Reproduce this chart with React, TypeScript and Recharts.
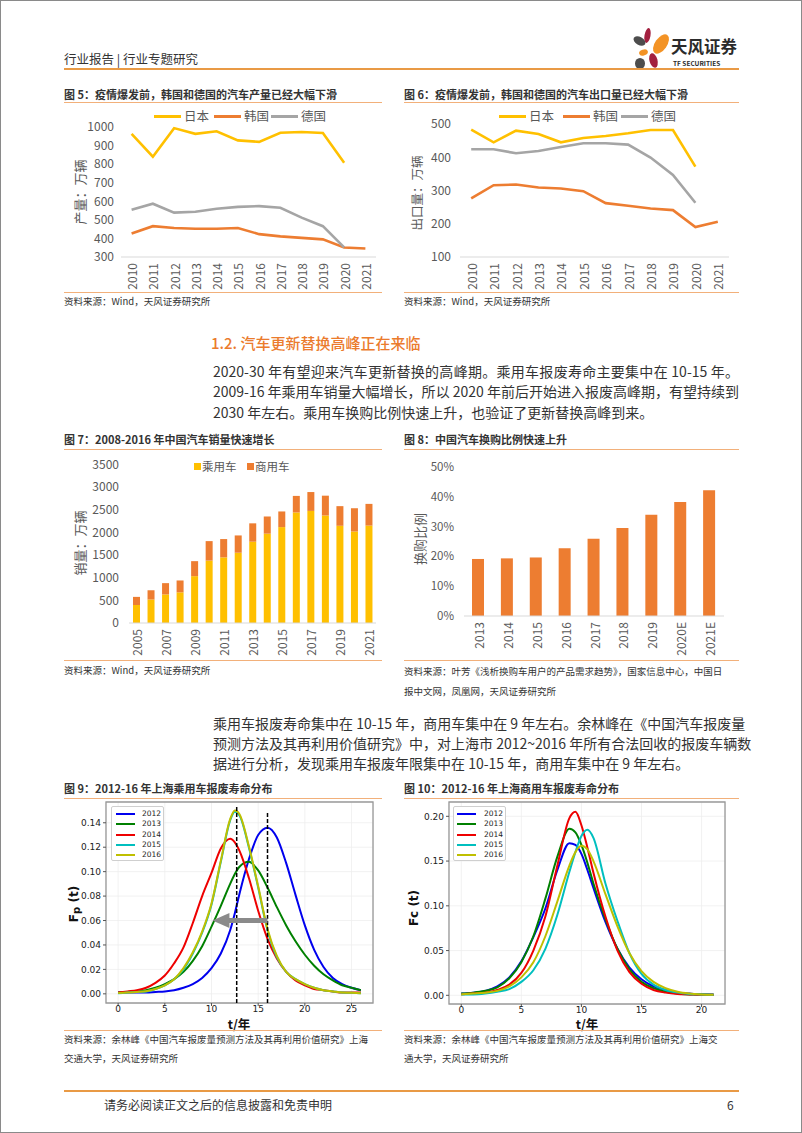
import React from "react";
import {
  LineChart,
  Line,
  BarChart,
  Bar,
  ComposedChart,
  Scatter,
  XAxis,
  YAxis,
  CartesianGrid,
  ReferenceLine,
  ReferenceArea,
} from "recharts";

const CJK = '"Noto Sans CJK SC", "Noto Sans", sans-serif';
const MPL = '"DejaVu Sans", sans-serif';
const TXT = "#333333";
const AXIS_GRAY = "#595959";
const RULE = "#F2B07A";
const YELLOW = "#FFC000";
const ORANGE = "#ED7D31";
const GRAY = "#A5A5A5";

// 图5 / 图6：日韩德汽车产量、出口量（万辆）
const YEARS_10_21 = ["2010", "2011", "2012", "2013", "2014", "2015", "2016", "2017", "2018", "2019", "2020", "2021"];
const JP_OUTPUT = [963, 840, 994, 963, 977, 928, 920, 969, 973, 968, 807, null];
const KR_OUTPUT = [427, 466, 456, 452, 452, 456, 423, 411, 403, 395, 351, 346];
const DE_OUTPUT = [555, 587, 539, 544, 560, 570, 574, 565, 512, 466, 352, null];
const JP_EXPORT = [483, 445, 480, 470, 445, 458, 464, 472, 482, 482, 372, null];
const KR_EXPORT = [276, 316, 318, 309, 306, 298, 262, 254, 246, 241, 190, 206];
const DE_EXPORT = [424, 424, 412, 419, 431, 442, 442, 438, 399, 347, 263, null];

// 图7：中国汽车销量（万辆）
const YEARS_05_21 = ["2005", "2006", "2007", "2008", "2009", "2010", "2011", "2012", "2013", "2014", "2015", "2016", "2017", "2018", "2019", "2020", "2021"];
const PASSENGER = [397, 518, 630, 676, 1033, 1376, 1447, 1550, 1793, 1970, 2115, 2438, 2472, 2371, 2144, 2018, 2148];
const COMMERCIAL = [179, 204, 249, 262, 331, 430, 404, 381, 405, 379, 345, 365, 416, 437, 433, 513, 479];

// 图8：换购比例
const RATIO_YEARS = ["2013", "2014", "2015", "2016", "2017", "2018", "2019", "2020E", "2021E"];
const REPLACE_RATIO = [0.191, 0.193, 0.196, 0.227, 0.259, 0.295, 0.339, 0.382, 0.421];

// 图9：乘用车报废寿命分布
const T9 = [0, 1, 2, 3, 4, 5, 6, 7, 8, 9, 10, 11, 12, 12.5, 13, 14, 15, 16, 17, 18, 19, 20, 21, 22, 23, 24, 25, 26];
const FP_2012 = [0.001, 0.001, 0.001, 0.001, 0.0015, 0.002, 0.003, 0.005, 0.008, 0.013, 0.021, 0.033, 0.052, 0.066, 0.082, 0.11, 0.13, 0.136, 0.128, 0.107, 0.081, 0.056, 0.036, 0.022, 0.013, 0.008, 0.005, 0.003];
const FP_2013 = [0.001, 0.0015, 0.002, 0.003, 0.005, 0.008, 0.012, 0.018, 0.027, 0.039, 0.055, 0.072, 0.09, 0.098, 0.104, 0.108, 0.101, 0.087, 0.071, 0.056, 0.043, 0.032, 0.023, 0.016, 0.011, 0.007, 0.005, 0.003];
const FP_2014 = [0.001, 0.002, 0.003, 0.005, 0.009, 0.015, 0.025, 0.038, 0.058, 0.08, 0.099, 0.119, 0.127, 0.124, 0.117, 0.095, 0.068, 0.045, 0.029, 0.018, 0.011, 0.007, 0.004, 0.003, 0.002, 0.001, 0.001, 0.001];
const FP_2015 = [0.0005, 0.001, 0.0015, 0.002, 0.004, 0.007, 0.012, 0.02, 0.033, 0.05, 0.073, 0.108, 0.142, 0.149, 0.146, 0.12, 0.087, 0.052, 0.03, 0.018, 0.012, 0.008, 0.005, 0.003, 0.002, 0.001, 0.0008, 0.0005];
const FP_2016 = [0.0006, 0.001, 0.0016, 0.0022, 0.004, 0.007, 0.012, 0.021, 0.034, 0.051, 0.074, 0.109, 0.143, 0.15, 0.147, 0.121, 0.088, 0.053, 0.031, 0.018, 0.012, 0.008, 0.005, 0.003, 0.002, 0.001, 0.0008, 0.0005];
const DASH_T = [12.7, 16];
const DASH_TOP = [0.1546, 0.148];
const ARROW = { from: 16, to: 11.8, tip: 10.1, level: 0.06 };

// 图10：商用车报废寿命分布
const T10 = [0, 1, 2, 3, 4, 5, 6, 7, 8, 9, 9.5, 10, 10.5, 11, 12, 13, 14, 15, 16, 17, 18, 19, 20, 21];
const FC_2012 = [0.002, 0.003, 0.005, 0.01, 0.02, 0.038, 0.065, 0.097, 0.14, 0.17, 0.168, 0.158, 0.14, 0.12, 0.082, 0.052, 0.031, 0.018, 0.01, 0.006, 0.003, 0.002, 0.001, 0.001];
const FC_2013 = [0.002, 0.003, 0.005, 0.009, 0.019, 0.037, 0.066, 0.108, 0.155, 0.186, 0.182, 0.168, 0.148, 0.125, 0.085, 0.052, 0.029, 0.015, 0.008, 0.004, 0.002, 0.001, 0.001, 0.0005];
const FC_2014 = [0.001, 0.002, 0.003, 0.006, 0.012, 0.025, 0.05, 0.088, 0.145, 0.198, 0.205, 0.19, 0.165, 0.137, 0.088, 0.05, 0.026, 0.013, 0.006, 0.003, 0.0015, 0.001, 0.0005, 0.0005];
const FC_2015 = [0.001, 0.001, 0.002, 0.004, 0.007, 0.015, 0.028, 0.052, 0.09, 0.138, 0.16, 0.178, 0.185, 0.176, 0.125, 0.083, 0.047, 0.024, 0.012, 0.006, 0.003, 0.0015, 0.001, 0.0005];
const FC_2016 = [0.001, 0.002, 0.003, 0.005, 0.01, 0.02, 0.037, 0.066, 0.105, 0.145, 0.16, 0.167, 0.163, 0.15, 0.113, 0.077, 0.047, 0.027, 0.015, 0.008, 0.004, 0.002, 0.001, 0.0005];

const COHORTS = ["2012", "2013", "2014", "2015", "2016"];
const MPL_COLORS = ["#0000EE", "#008000", "#EE0000", "#00BFBF", "#BFBF00"];

const PARA_1 = [
  "2020-30 年有望迎来汽车更新替换的高峰期。乘用车报废寿命主要集中在 10-15 年。",
  "2009-16 年乘用车销量大幅增长，所以 2020 年前后开始进入报废高峰期，有望持续到",
  "2030 年左右。乘用车换购比例快速上升，也验证了更新替换高峰到来。",
];
const PARA_2 = [
  "乘用车报废寿命集中在 10-15 年，商用车集中在 9 年左右。余林峰在《中国汽车报废量",
  "预测方法及其再利用价值研究》中，对上海市 2012~2016 年所有合法回收的报废车辆数",
  "据进行分析，发现乘用车报废年限集中在 10-15 年，商用车集中在 9 年左右。",
];

const outputRows = YEARS_10_21.map((year, i) => ({ year, jp: JP_OUTPUT[i], kr: KR_OUTPUT[i], de: DE_OUTPUT[i] }));
const exportRows = YEARS_10_21.map((year, i) => ({ year, jp: JP_EXPORT[i], kr: KR_EXPORT[i], de: DE_EXPORT[i] }));
const salesRows = YEARS_05_21.map((year, i) => ({ year, p: PASSENGER[i], c: COMMERCIAL[i] }));
const ratioRows = RATIO_YEARS.map((year, i) => ({ year, r: REPLACE_RATIO[i] }));
const fpRows = T9.map((t, i) => ({ t, a: FP_2012[i], b: FP_2013[i], c: FP_2014[i], d: FP_2015[i], e: FP_2016[i] }));
const fcRows = T10.map((t, i) => ({ t, a: FC_2012[i], b: FC_2013[i], c: FC_2014[i], d: FC_2015[i], e: FC_2016[i] }));
const arrowHead = [{ t: ARROW.tip, v: ARROW.level }];
const SERIES_KEYS = ["a", "b", "c", "d", "e"];

function Txt({ x, y, size, children, color = TXT, weight = 400, w, justify, family = CJK }: any) {
  return (
    <div
      style={{
        position: "absolute",
        left: x,
        top: y - size * 0.65,
        height: size * 1.3,
        lineHeight: `${size * 1.3}px`,
        fontSize: size,
        fontWeight: weight,
        color,
        fontFamily: family,
        whiteSpace: "nowrap",
        width: w,
        textAlign: justify ? "justify" : "left",
        textAlignLast: justify ? "justify" : "auto",
      } as any}
    >
      {children}
    </div>
  );
}

function VLabel({ cx, cy, size, children, color = AXIS_GRAY, weight = 400, family = CJK }: any) {
  return (
    <div
      style={{
        position: "absolute",
        left: cx,
        top: cy,
        transform: "translate(-50%, -50%) rotate(-90deg)",
        fontSize: size,
        color,
        fontWeight: weight,
        fontFamily: family,
        whiteSpace: "nowrap",
        lineHeight: 1,
      }}
    >
      {children}
    </div>
  );
}

function Rule({ x1, x2, y, color = RULE, h = 1 }: any) {
  return <div style={{ position: "absolute", left: x1, top: y, width: x2 - x1, height: h, background: color }} />;
}

function RotTick(props: any) {
  const { x, y, payload, gap = 6, size = 12 } = props;
  return (
    <text
      transform={`translate(${x},${y + gap}) rotate(-90)`}
      textAnchor="end"
      dominantBaseline="central"
      fontSize={size}
      fill={AXIS_GRAY}
      fontFamily={CJK}
    >
      {payload.value}
    </text>
  );
}

function LineKey({ items, y }: any) {
  return (
    <>
      {items.map((it: any) => (
        <React.Fragment key={it.label}>
          <div style={{ position: "absolute", left: it.x, top: y - 1.5, width: 27, height: 3, background: it.color }} />
          <Txt x={it.x + 30} y={y} size={12.5} color={AXIS_GRAY}>
            {it.label}
          </Txt>
        </React.Fragment>
      ))}
    </>
  );
}

function BoxKey({ x, y, sw, tx }: any) {
  return (
    <div
      style={{
        position: "absolute",
        left: x,
        top: y,
        width: 53,
        height: 55,
        border: "1px solid #cfcfcf",
        borderRadius: 2,
        background: "#fff",
        boxSizing: "border-box",
      }}
    >
      {COHORTS.map((c, i) => (
        <React.Fragment key={c}>
          <div style={{ position: "absolute", left: sw, top: 6 + i * 10.3, width: 19, height: 2, background: MPL_COLORS[i] }} />
          <div
            style={{
              position: "absolute",
              left: tx,
              top: 2 + i * 10.3,
              fontSize: 7.5,
              lineHeight: "10px",
              fontFamily: MPL,
              color: "#222",
            }}
          >
            {c}
          </div>
        </React.Fragment>
      ))}
    </div>
  );
}

function Logo() {
  return (
    <svg style={{ position: "absolute", left: 628, top: 24 }} width={44} height={48}>
      <ellipse cx={18.5} cy={10.5} rx={3} ry={7.5} transform="rotate(10 18.5 10.5)" fill="#A3203F" />
      <ellipse cx={32} cy={19} rx={6} ry={11} transform="rotate(35 32 19)" fill="#F39325" />
      <ellipse cx={10.5} cy={16} rx={6.5} ry={4} transform="rotate(30 10.5 16)" fill="#4D4D4D" />
      <ellipse cx={14.5} cy={27.5} rx={4.5} ry={3} transform="rotate(-20 14.5 27.5)" fill="#F39325" />
      <ellipse cx={11} cy={38.5} rx={5} ry={5.5} fill="#4D4D4D" />
      <ellipse cx={24.5} cy={35.5} rx={4} ry={7.5} transform="rotate(-15 24.5 35.5)" fill="#A3203F" />
    </svg>
  );
}

const tickStyle = { fontSize: 12, fill: AXIS_GRAY, fontFamily: CJK };
const mplTick = { fontSize: 9, fill: "#222", fontFamily: MPL };

export default function App() {
  return (
    <div
      style={{
        position: "absolute",
        left: 0,
        top: 0,
        width: 802,
        height: 1133,
        background: "#fff",
        border: "1px solid #8a8a8a",
        boxSizing: "border-box",
        overflow: "hidden",
        fontFamily: CJK,
      }}
    >
      {/* header */}
      <Txt x={63} y={58} size={12.5}>行业报告 | 行业专题研究</Txt>
      <Logo />
      <Txt x={670} y={46} size={16.5} weight={700} color="#2b2b2b">天风证券</Txt>
      <Txt x={672} y={62} size={6.5} weight={700} color="#2b2b2b">TF SECURITIES</Txt>
      <Rule x1={63} x2={738} y={67} h={2} color="#E99A45" />

      {/* 图5 */}
      <Txt x={63} y={93} size={11} weight={700}>图 5：疫情爆发前，韩国和德国的汽车产量已经大幅下滑</Txt>
      <Rule x1={63} x2={381} y={101} />
      <LineKey
        y={115}
        items={[
          { x: 153, label: "日本", color: YELLOW },
          { x: 213, label: "韩国", color: ORANGE },
          { x: 270, label: "德国", color: GRAY },
        ]}
      />
      <VLabel cx={78} cy={191} size={13}>产量：万辆</VLabel>
      <div style={{ position: "absolute", left: 63, top: 104 }}>
        <LineChart width={330} height={190} data={outputRows} margin={{ top: 22, right: 18, bottom: 0, left: 0 }}>
          <XAxis dataKey="year" height={38} padding={{ left: 10.6, right: 10.6 }} tickSize={0} tickMargin={0} interval={0} stroke="#D9D9D9" tick={<RotTick gap={6} size={12} />} />
          <YAxis width={57} domain={[300, 1000]} ticks={[300, 400, 500, 600, 700, 800, 900, 1000]} interval={0} axisLine={false} tickSize={0} tickMargin={7} tick={tickStyle} />
          <Line dataKey="jp" stroke={YELLOW} strokeWidth={2.6} dot={false} isAnimationActive={false} />
          <Line dataKey="kr" stroke={ORANGE} strokeWidth={2.6} dot={false} isAnimationActive={false} />
          <Line dataKey="de" stroke={GRAY} strokeWidth={2.6} dot={false} isAnimationActive={false} />
        </LineChart>
      </div>
      <Rule x1={63} x2={381} y={291} />
      <Txt x={63} y={300} size={9.5}>资料来源：Wind，天风证券研究所</Txt>

      {/* 图6 */}
      <Txt x={403} y={93} size={11} weight={700}>图 6：疫情爆发前，韩国和德国的汽车出口量已经大幅下滑</Txt>
      <Rule x1={403} x2={738} y={101} />
      <LineKey
        y={115}
        items={[
          { x: 498, label: "日本", color: YELLOW },
          { x: 562, label: "韩国", color: ORANGE },
          { x: 620, label: "德国", color: GRAY },
        ]}
      />
      <VLabel cx={416} cy={192} size={12.5}>出口量：万辆</VLabel>
      <div style={{ position: "absolute", left: 403, top: 104 }}>
        <LineChart width={330} height={190} data={exportRows} margin={{ top: 19, right: 5, bottom: 0, left: 0 }}>
          <XAxis dataKey="year" height={38} padding={{ left: 11.2, right: 11.2 }} tickSize={0} tickMargin={0} interval={0} stroke="#D9D9D9" tick={<RotTick gap={6} size={12} />} />
          <YAxis width={56} domain={[100, 500]} ticks={[100, 200, 300, 400, 500]} interval={0} axisLine={false} tickSize={0} tickMargin={9} tick={tickStyle} />
          <Line dataKey="jp" stroke={YELLOW} strokeWidth={2.6} dot={false} isAnimationActive={false} />
          <Line dataKey="kr" stroke={ORANGE} strokeWidth={2.6} dot={false} isAnimationActive={false} />
          <Line dataKey="de" stroke={GRAY} strokeWidth={2.6} dot={false} isAnimationActive={false} />
        </LineChart>
      </div>
      <Rule x1={403} x2={738} y={291} />
      <Txt x={403} y={300} size={9.5}>资料来源：Wind，天风证券研究所</Txt>

      {/* 1.2 */}
      <Txt x={210} y={342} size={15} weight={500} color="#EB7B2D">1.2. 汽车更新替换高峰正在来临</Txt>
      {PARA_1.map((line, i) => (
        <Txt key={i} x={212} y={370 + i * 20.5} size={14} w={i < 2 ? 526 : undefined} justify={i < 2}>
          {line}
        </Txt>
      ))}

      {/* 图7 */}
      <Txt x={63} y={438} size={11} weight={700}>图 7：2008-2016 年中国汽车销量快速增长</Txt>
      <Rule x1={63} x2={381} y={448} />
      <div style={{ position: "absolute", left: 63, top: 450 }}>
        <BarChart width={330} height={205} data={salesRows} margin={{ top: 13.3, right: 18, bottom: 0, left: 0 }}>
          <XAxis dataKey="year" height={33} tickSize={0} tickMargin={0} interval={1} stroke="#D9D9D9" tick={<RotTick gap={6} size={12} />} />
          <YAxis width={65} domain={[0, 3500]} ticks={[0, 500, 1000, 1500, 2000, 2500, 3000, 3500]} interval={0} axisLine={false} tickSize={0} tickMargin={10} tick={tickStyle} />
          <Bar dataKey="p" stackId="s" fill={YELLOW} barSize={7} isAnimationActive={false} />
          <Bar dataKey="c" stackId="s" fill={ORANGE} barSize={7} isAnimationActive={false} />
        </BarChart>
      </div>
      <div style={{ position: "absolute", left: 193, top: 462, width: 7, height: 7, background: YELLOW }} />
      <Txt x={201} y={465} size={11.5} color={AXIS_GRAY}>乘用车</Txt>
      <div style={{ position: "absolute", left: 246, top: 462, width: 7, height: 7, background: ORANGE }} />
      <Txt x={254} y={465} size={11.5} color={AXIS_GRAY}>商用车</Txt>
      <VLabel cx={78} cy={542} size={13}>销量：万辆</VLabel>
      <Rule x1={63} x2={381} y={659} />
      <Txt x={63} y={669} size={9.5}>资料来源：Wind，天风证券研究所</Txt>

      {/* 图8 */}
      <Txt x={403} y={438} size={11} weight={700}>图 8：中国汽车换购比例快速上升</Txt>
      <Rule x1={403} x2={738} y={448} />
      <div style={{ position: "absolute", left: 403, top: 450 }}>
        <BarChart width={330} height={205} data={ratioRows} margin={{ top: 15.7, right: 10, bottom: 0, left: 0 }}>
          <XAxis dataKey="year" height={40} tickSize={0} tickMargin={0} interval={0} stroke="#D9D9D9" tick={<RotTick gap={6} size={12} />} />
          <YAxis
            width={60}
            domain={[0, 0.5]}
            ticks={[0, 0.1, 0.2, 0.3, 0.4, 0.5]}
            interval={0}
            axisLine={false}
            tickSize={0}
            tickMargin={10}
            tick={{ ...tickStyle, fontSize: 11.5 }}
            tickFormatter={(v) => `${Math.round(v * 100)}%`}
          />
          <Bar dataKey="r" fill={ORANGE} barSize={12} isAnimationActive={false} />
        </BarChart>
      </div>
      <VLabel cx={418} cy={538} size={13}>换购比例</VLabel>
      <Rule x1={403} x2={738} y={659} />
      <Txt x={403} y={670} size={9.5}>资料来源：叶芳《浅析换购车用户的产品需求趋势》，国家信息中心，中国日</Txt>
      <Txt x={403} y={690} size={9.5}>报中文网，凤凰网，天风证券研究所</Txt>

      {PARA_2.map((line, i) => (
        <Txt key={i} x={212} y={722 + i * 20} size={14} w={i < 2 ? 526 : undefined} justify={i < 2}>
          {line}
        </Txt>
      ))}

      {/* 图9 */}
      <Txt x={63} y={787} size={11} weight={700}>图 9：2012-16 年上海乘用车报废寿命分布</Txt>
      <Rule x1={63} x2={381} y={797} />
      <div style={{ position: "absolute", left: 63, top: 798 }}>
        <ComposedChart width={320} height={230} data={fpRows} margin={{ top: 3, right: 11, bottom: 0, left: 0 }}>
          <ReferenceArea x1={-1.3} x2={27.3} y1={-0.0075} y2={0.157} fill="#fff" stroke="#9a9a9a" strokeWidth={1.3} />
          <CartesianGrid stroke="#dcdcdc" strokeWidth={0.8} />
          <XAxis dataKey="t" type="number" domain={[-1.3, 27.3]} ticks={[0, 5, 10, 15, 20, 25]} height={26} axisLine={false} tickSize={3} tickMargin={0} stroke="#555" tick={mplTick} allowDataOverflow />
          <YAxis
            width={42}
            type="number"
            domain={[-0.0075, 0.157]}
            ticks={[0, 0.02, 0.04, 0.06, 0.08, 0.1, 0.12, 0.14]}
            interval={0}
            axisLine={false}
            tickSize={3}
            tickMargin={2}
            stroke="#555"
            tick={mplTick}
            tickFormatter={(v) => v.toFixed(2)}
            allowDataOverflow
          />
          {SERIES_KEYS.map((k, i) => (
            <Line key={k} type="monotone" dataKey={k} stroke={MPL_COLORS[i]} strokeWidth={2} dot={false} isAnimationActive={false} />
          ))}
          {DASH_T.map((t, i) => (
            <ReferenceLine
              key={t}
              segment={[
                { x: t, y: -0.0074 },
                { x: t, y: DASH_TOP[i] },
              ]}
              stroke="#000"
              strokeWidth={1.5}
              strokeDasharray="4 2"
            />
          ))}
          <ReferenceLine
            segment={[
              { x: ARROW.from, y: ARROW.level },
              { x: ARROW.to, y: ARROW.level },
            ]}
            stroke="#8a8a8a"
            strokeWidth={5}
          />
          <Scatter
            data={arrowHead}
            dataKey="v"
            isAnimationActive={false}
            shape={(p: any) => (
              <polygon points={`${p.cx},${p.cy} ${p.cx + 17},${p.cy - 7.5} ${p.cx + 17},${p.cy + 7.5}`} fill="#8a8a8a" />
            )}
          />
        </ComposedChart>
      </div>
      <BoxKey x={110} y={805} sw={4} tx={30} />
      <VLabel cx={73} cy={903} size={12} weight={700} color="#111" family={MPL}>
        F<span style={{ fontSize: 10, position: "relative", top: 1.5 }}>p</span> (t)
      </VLabel>
      <div style={{ position: "absolute", left: 238, top: 1023, transform: "translate(-50%,-50%)", fontSize: 12.5, lineHeight: 1, fontWeight: 700, color: "#111", fontFamily: CJK }}>t/年</div>
      <Rule x1={63} x2={381} y={1029} />
      <Txt x={63} y={1038} size={9.5}>资料来源：余林峰《中国汽车报废量预测方法及其再利用价值研究》上海</Txt>
      <Txt x={63} y={1057} size={9.5}>交通大学，天风证券研究所</Txt>

      {/* 图10 */}
      <Txt x={403} y={787} size={11} weight={700}>图 10：2012-16 年上海商用车报废寿命分布</Txt>
      <Rule x1={403} x2={738} y={797} />
      <div style={{ position: "absolute", left: 403, top: 798 }}>
        <ComposedChart width={330} height={230} data={fcRows} margin={{ top: 3, right: 9, bottom: 0, left: 0 }}>
          <ReferenceArea x1={-1.02} x2={21.95} y1={-0.0097} y2={0.216} fill="#fff" stroke="#9a9a9a" strokeWidth={1.3} />
          <CartesianGrid stroke="#dcdcdc" strokeWidth={0.8} />
          <XAxis dataKey="t" type="number" domain={[-1.02, 21.95]} ticks={[0, 5, 10, 15, 20]} height={25} axisLine={false} tickSize={3} tickMargin={0} stroke="#555" tick={mplTick} allowDataOverflow />
          <YAxis
            width={45}
            type="number"
            domain={[-0.0097, 0.216]}
            ticks={[0, 0.05, 0.1, 0.15, 0.2]}
            interval={0}
            axisLine={false}
            tickSize={3}
            tickMargin={2}
            stroke="#555"
            tick={mplTick}
            tickFormatter={(v) => v.toFixed(2)}
            allowDataOverflow
          />
          {SERIES_KEYS.map((k, i) => (
            <Line key={k} type="monotone" dataKey={k} stroke={MPL_COLORS[i]} strokeWidth={2} dot={false} isAnimationActive={false} />
          ))}
        </ComposedChart>
      </div>
      <BoxKey x={452} y={805} sw={3} tx={30} />
      <VLabel cx={413} cy={907} size={12} weight={700} color="#111" family={MPL}>
        Fc (t)
      </VLabel>
      <div style={{ position: "absolute", left: 586, top: 1023, transform: "translate(-50%,-50%)", fontSize: 12.5, lineHeight: 1, fontWeight: 700, color: "#111", fontFamily: CJK }}>t/年</div>
      <Rule x1={403} x2={738} y={1029} />
      <Txt x={403} y={1038} size={9.5}>资料来源：余林峰《中国汽车报废量预测方法及其再利用价值研究》上海交</Txt>
      <Txt x={403} y={1057} size={9.5}>通大学，天风证券研究所</Txt>

      {/* footer */}
      <Rule x1={63} x2={738} y={1089} h={2} color="#E99A45" />
      <Txt x={103} y={1104} size={12}>请务必阅读正文之后的信息披露和免责申明</Txt>
      <Txt x={726} y={1104} size={12}>6</Txt>
    </div>
  );
}
